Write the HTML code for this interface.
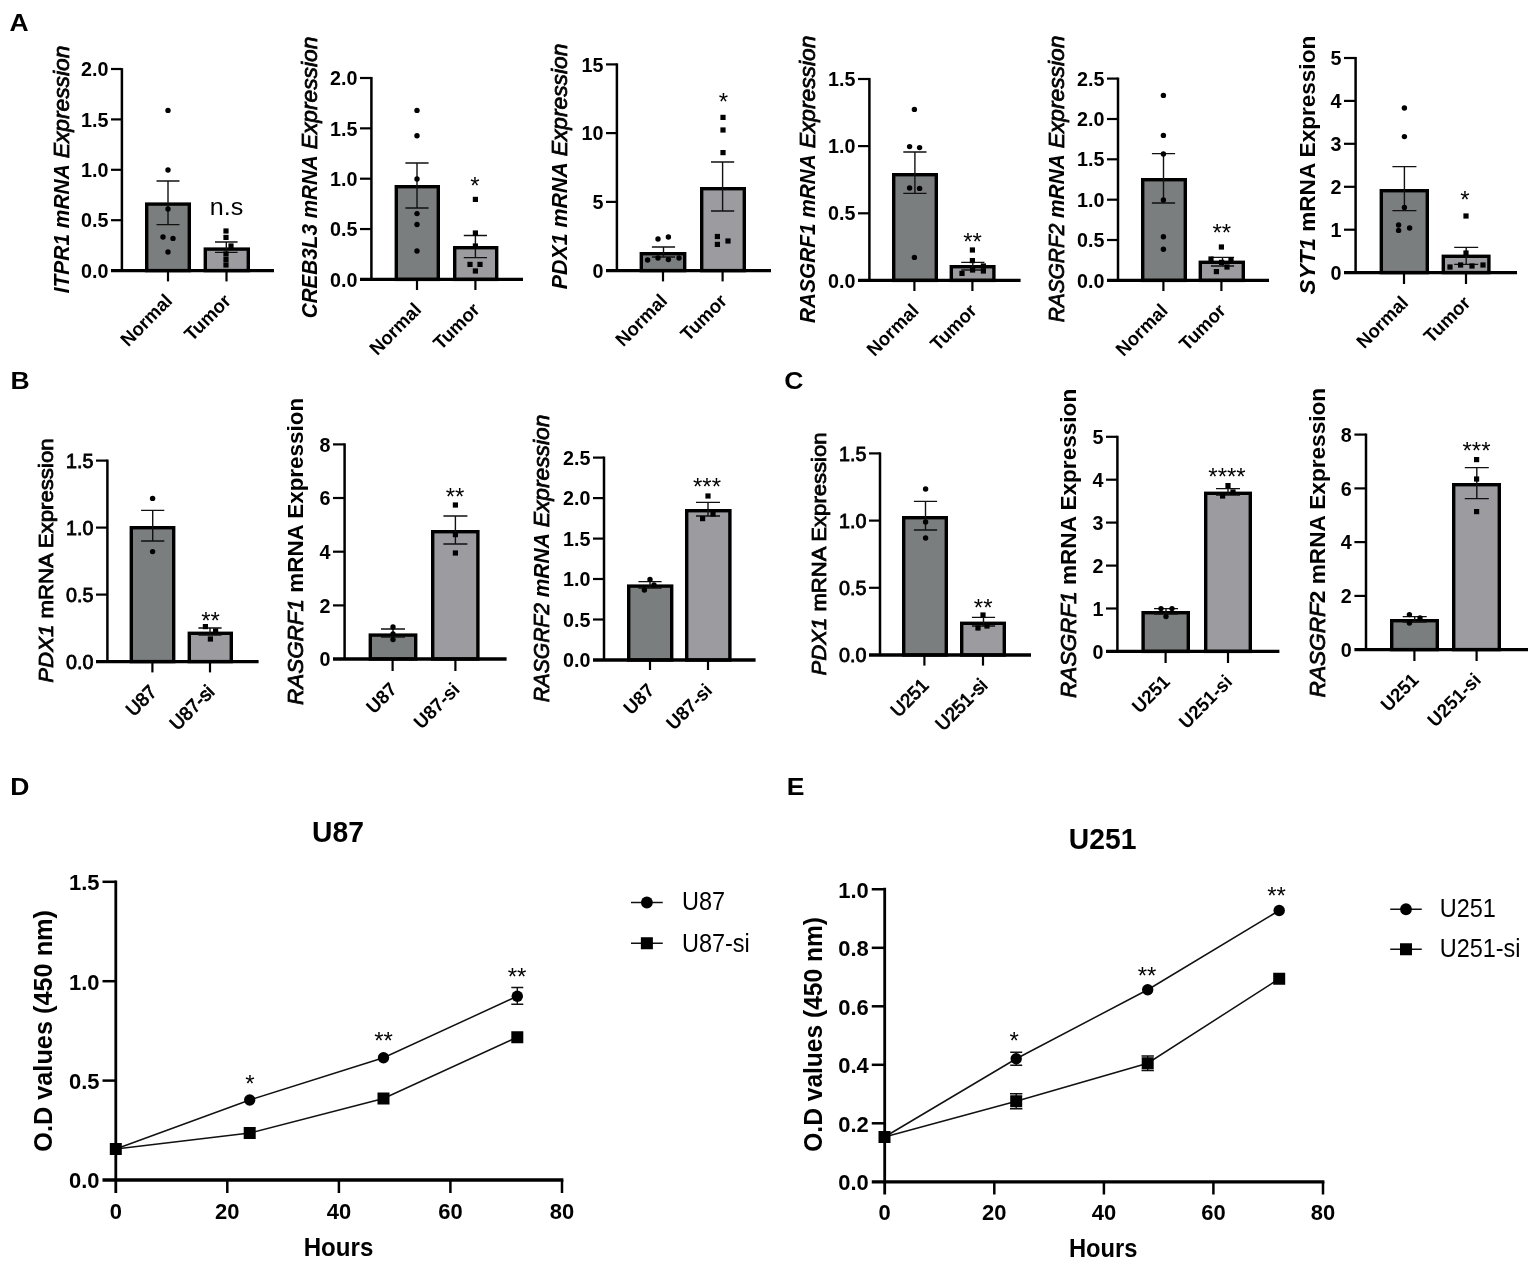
<!DOCTYPE html>
<html><head><meta charset="utf-8"><title>Figure</title>
<style>
html,body{margin:0;padding:0;background:#fff}
svg{display:block;filter:blur(.35px)}
text{font-family:"Liberation Sans",Arial,Helvetica,sans-serif;fill:#000}
.b{font-weight:700}
.bi{font-weight:700;font-style:italic}
.i{font-style:italic}
.i2{font-style:italic;stroke:#000;stroke-width:.8px}
.r{font-weight:400}
.m{font-weight:400;stroke:#000;stroke-width:.8px}
.mi{font-weight:400;font-style:italic;stroke:#000;stroke-width:.8px}
</style></head><body>
<svg width="1535" height="1263" viewBox="0 0 1535 1263">
<rect width="1535" height="1263" fill="#fff"/>
<rect x="146.70" y="204.10" width="42.60" height="66.50" fill="#7b7e7e" stroke="#000" stroke-width="3.4"/>
<rect x="205.30" y="249.10" width="43.00" height="21.50" fill="#9b9ba0" stroke="#000" stroke-width="3.4"/>
<path d="M156.50 181.00H179.50M168.00 181.00V224.60M156.50 224.60H179.50" stroke="#111" stroke-width="1.4" fill="none"/>
<path d="M215.00 242.00H237.60M226.30 242.00V252.40M215.00 252.40H237.60" stroke="#111" stroke-width="1.4" fill="none"/>
<path d="M121.90 68.15V270.60" stroke="#000" stroke-width="2.5" fill="none"/>
<path d="M111.00 270.60H274.00" stroke="#000" stroke-width="3.4" fill="none"/>
<path d="M111.00 69.00H121.90" stroke="#000" stroke-width="2.2"/>
<text class="b" font-size="19.7" x="81.01" y="76.15" textLength="27.39" lengthAdjust="spacingAndGlyphs">2.0</text>
<path d="M111.00 119.40H121.90" stroke="#000" stroke-width="2.2"/>
<text class="b" font-size="19.7" x="81.01" y="126.55" textLength="27.39" lengthAdjust="spacingAndGlyphs">1.5</text>
<path d="M111.00 169.80H121.90" stroke="#000" stroke-width="2.2"/>
<text class="b" font-size="19.7" x="81.01" y="176.95" textLength="27.39" lengthAdjust="spacingAndGlyphs">1.0</text>
<path d="M111.00 220.20H121.90" stroke="#000" stroke-width="2.2"/>
<text class="b" font-size="19.7" x="81.01" y="227.35" textLength="27.39" lengthAdjust="spacingAndGlyphs">0.5</text>
<text class="b" font-size="19.7" x="81.01" y="277.75" textLength="27.39" lengthAdjust="spacingAndGlyphs">0.0</text>
<path d="M168.00 270.60V281.40" stroke="#000" stroke-width="2.2"/>
<path d="M226.50 270.60V281.40" stroke="#000" stroke-width="2.2"/>
<text class="b" font-size="19.0" x="-64.15" y="0" textLength="64.15" lengthAdjust="spacingAndGlyphs" transform="translate(173.50 302.10) rotate(-45)">Normal</text>
<text class="b" font-size="19.0" x="-56.54" y="0" textLength="56.54" lengthAdjust="spacingAndGlyphs" transform="translate(232.00 302.10) rotate(-45)">Tumor</text>
<circle cx="168.00" cy="110.40" r="2.7" fill="#000"/>
<circle cx="168.00" cy="170.00" r="2.7" fill="#000"/>
<circle cx="168.00" cy="209.00" r="2.7" fill="#000"/>
<circle cx="163.00" cy="237.00" r="2.7" fill="#000"/>
<circle cx="173.00" cy="238.40" r="2.7" fill="#000"/>
<circle cx="168.00" cy="252.00" r="2.7" fill="#000"/>
<rect x="223.40" y="228.40" width="5.2" height="5.2" fill="#000"/>
<rect x="223.40" y="234.80" width="5.2" height="5.2" fill="#000"/>
<rect x="228.40" y="243.40" width="5.2" height="5.2" fill="#000"/>
<rect x="223.40" y="251.40" width="5.2" height="5.2" fill="#000"/>
<rect x="223.40" y="257.00" width="5.2" height="5.2" fill="#000"/>
<rect x="223.40" y="262.40" width="5.2" height="5.2" fill="#000"/>
<text class="r" font-size="24.6" x="209.76" y="215.00" textLength="33.47" lengthAdjust="spacingAndGlyphs">n.s</text>
<text font-size="22.3" textLength="129.10" lengthAdjust="spacingAndGlyphs" xml:space="preserve" transform="translate(68.80 293.30) rotate(-90)"><tspan class="bi">ITPR1 mRNA</tspan></text>
<text class="i2" font-size="22.3" textLength="112.7" lengthAdjust="spacingAndGlyphs" transform="translate(68.80 158.30) rotate(-90)">Expression</text>
<rect x="396.30" y="186.70" width="42.00" height="92.70" fill="#7b7e7e" stroke="#000" stroke-width="3.4"/>
<rect x="454.70" y="247.70" width="42.00" height="31.70" fill="#9b9ba0" stroke="#000" stroke-width="3.4"/>
<path d="M405.40 163.00H428.60M417.00 163.00V208.00M405.40 208.00H428.60" stroke="#111" stroke-width="1.4" fill="none"/>
<path d="M463.80 235.50H487.00M475.40 235.50V257.60M463.80 257.60H487.00" stroke="#111" stroke-width="1.4" fill="none"/>
<path d="M371.40 76.95V279.40" stroke="#000" stroke-width="2.5" fill="none"/>
<path d="M360.00 279.40H523.00" stroke="#000" stroke-width="3.4" fill="none"/>
<path d="M360.00 78.00H371.40" stroke="#000" stroke-width="2.2"/>
<text class="b" font-size="19.7" x="330.01" y="85.15" textLength="27.39" lengthAdjust="spacingAndGlyphs">2.0</text>
<path d="M360.00 128.35H371.40" stroke="#000" stroke-width="2.2"/>
<text class="b" font-size="19.7" x="330.01" y="135.50" textLength="27.39" lengthAdjust="spacingAndGlyphs">1.5</text>
<path d="M360.00 178.70H371.40" stroke="#000" stroke-width="2.2"/>
<text class="b" font-size="19.7" x="330.01" y="185.85" textLength="27.39" lengthAdjust="spacingAndGlyphs">1.0</text>
<path d="M360.00 229.05H371.40" stroke="#000" stroke-width="2.2"/>
<text class="b" font-size="19.7" x="330.01" y="236.20" textLength="27.39" lengthAdjust="spacingAndGlyphs">0.5</text>
<text class="b" font-size="19.7" x="330.01" y="286.55" textLength="27.39" lengthAdjust="spacingAndGlyphs">0.0</text>
<path d="M417.00 279.40V290.00" stroke="#000" stroke-width="2.2"/>
<path d="M475.40 279.40V290.00" stroke="#000" stroke-width="2.2"/>
<text class="b" font-size="19.0" x="-64.15" y="0" textLength="64.15" lengthAdjust="spacingAndGlyphs" transform="translate(422.50 310.90) rotate(-45)">Normal</text>
<text class="b" font-size="19.0" x="-56.54" y="0" textLength="56.54" lengthAdjust="spacingAndGlyphs" transform="translate(480.90 310.90) rotate(-45)">Tumor</text>
<circle cx="417.00" cy="110.40" r="2.7" fill="#000"/>
<circle cx="417.00" cy="135.80" r="2.7" fill="#000"/>
<circle cx="417.00" cy="179.00" r="2.7" fill="#000"/>
<circle cx="417.00" cy="213.60" r="2.7" fill="#000"/>
<circle cx="417.00" cy="224.50" r="2.7" fill="#000"/>
<circle cx="417.00" cy="251.00" r="2.7" fill="#000"/>
<rect x="472.80" y="196.80" width="5.2" height="5.2" fill="#000"/>
<rect x="472.80" y="230.40" width="5.2" height="5.2" fill="#000"/>
<rect x="472.80" y="243.40" width="5.2" height="5.2" fill="#000"/>
<rect x="467.40" y="261.80" width="5.2" height="5.2" fill="#000"/>
<rect x="477.40" y="261.80" width="5.2" height="5.2" fill="#000"/>
<rect x="472.80" y="268.40" width="5.2" height="5.2" fill="#000"/>
<text class="r" font-size="24" text-anchor="middle" x="475.00" y="194.24">*</text>
<text font-size="22.3" textLength="163.10" lengthAdjust="spacingAndGlyphs" xml:space="preserve" transform="translate(317.20 318.30) rotate(-90)"><tspan class="bi">CREB3L3 mRNA</tspan></text>
<text class="i2" font-size="22.3" textLength="112.7" lengthAdjust="spacingAndGlyphs" transform="translate(317.20 149.30) rotate(-90)">Expression</text>
<rect x="641.30" y="253.70" width="43.40" height="16.90" fill="#7b7e7e" stroke="#000" stroke-width="3.4"/>
<rect x="701.70" y="188.70" width="42.60" height="81.90" fill="#9b9ba0" stroke="#000" stroke-width="3.4"/>
<path d="M651.90 247.00H675.10M663.50 247.00V257.00M651.90 257.00H675.10" stroke="#111" stroke-width="1.4" fill="none"/>
<path d="M711.00 162.00H734.20M722.60 162.00V211.00M711.00 211.00H734.20" stroke="#111" stroke-width="1.4" fill="none"/>
<path d="M616.90 63.35V270.60" stroke="#000" stroke-width="2.5" fill="none"/>
<path d="M606.00 270.60H771.00" stroke="#000" stroke-width="3.4" fill="none"/>
<path d="M606.00 64.40H616.90" stroke="#000" stroke-width="2.2"/>
<text class="b" font-size="19.7" x="581.49" y="71.55" textLength="21.91" lengthAdjust="spacingAndGlyphs">15</text>
<path d="M606.00 133.10H616.90" stroke="#000" stroke-width="2.2"/>
<text class="b" font-size="19.7" x="581.49" y="140.25" textLength="21.91" lengthAdjust="spacingAndGlyphs">10</text>
<path d="M606.00 201.90H616.90" stroke="#000" stroke-width="2.2"/>
<text class="b" font-size="19.7" x="592.44" y="209.05" textLength="10.96" lengthAdjust="spacingAndGlyphs">5</text>
<text class="b" font-size="19.7" x="592.44" y="277.75" textLength="10.96" lengthAdjust="spacingAndGlyphs">0</text>
<path d="M663.00 270.60V281.40" stroke="#000" stroke-width="2.2"/>
<path d="M722.60 270.60V281.40" stroke="#000" stroke-width="2.2"/>
<text class="b" font-size="19.0" x="-64.15" y="0" textLength="64.15" lengthAdjust="spacingAndGlyphs" transform="translate(668.50 302.10) rotate(-45)">Normal</text>
<text class="b" font-size="19.0" x="-56.54" y="0" textLength="56.54" lengthAdjust="spacingAndGlyphs" transform="translate(728.10 302.10) rotate(-45)">Tumor</text>
<circle cx="658.00" cy="239.00" r="2.7" fill="#000"/>
<circle cx="668.40" cy="237.00" r="2.7" fill="#000"/>
<circle cx="647.60" cy="260.00" r="2.7" fill="#000"/>
<circle cx="658.00" cy="258.00" r="2.7" fill="#000"/>
<circle cx="668.40" cy="259.60" r="2.7" fill="#000"/>
<circle cx="679.00" cy="258.00" r="2.7" fill="#000"/>
<rect x="720.40" y="114.80" width="5.2" height="5.2" fill="#000"/>
<rect x="720.40" y="127.40" width="5.2" height="5.2" fill="#000"/>
<rect x="720.40" y="150.00" width="5.2" height="5.2" fill="#000"/>
<rect x="714.80" y="233.90" width="5.2" height="5.2" fill="#000"/>
<rect x="714.80" y="241.80" width="5.2" height="5.2" fill="#000"/>
<rect x="725.40" y="238.40" width="5.2" height="5.2" fill="#000"/>
<text class="r" font-size="24" text-anchor="middle" x="723.40" y="109.64">*</text>
<text font-size="22.3" textLength="127.10" lengthAdjust="spacingAndGlyphs" xml:space="preserve" transform="translate(567.40 289.30) rotate(-90)"><tspan class="bi">PDX1 mRNA</tspan></text>
<text class="i2" font-size="22.3" textLength="112.7" lengthAdjust="spacingAndGlyphs" transform="translate(567.40 156.30) rotate(-90)">Expression</text>
<rect x="893.70" y="174.70" width="42.60" height="105.70" fill="#7b7e7e" stroke="#000" stroke-width="3.4"/>
<rect x="951.30" y="266.70" width="42.60" height="13.70" fill="#9b9ba0" stroke="#000" stroke-width="3.4"/>
<path d="M903.30 152.00H926.50M914.90 152.00V193.40M903.30 193.40H926.50" stroke="#111" stroke-width="1.4" fill="none"/>
<path d="M961.20 262.40H984.40M972.80 262.40V270.00M961.20 270.00H984.40" stroke="#111" stroke-width="1.4" fill="none"/>
<path d="M869.40 77.95V280.40" stroke="#000" stroke-width="2.5" fill="none"/>
<path d="M858.00 280.40H1020.60" stroke="#000" stroke-width="3.4" fill="none"/>
<path d="M858.00 79.00H869.40" stroke="#000" stroke-width="2.2"/>
<text class="b" font-size="19.7" x="828.01" y="86.15" textLength="27.39" lengthAdjust="spacingAndGlyphs">1.5</text>
<path d="M858.00 146.10H869.40" stroke="#000" stroke-width="2.2"/>
<text class="b" font-size="19.7" x="828.01" y="153.25" textLength="27.39" lengthAdjust="spacingAndGlyphs">1.0</text>
<path d="M858.00 213.30H869.40" stroke="#000" stroke-width="2.2"/>
<text class="b" font-size="19.7" x="828.01" y="220.45" textLength="27.39" lengthAdjust="spacingAndGlyphs">0.5</text>
<text class="b" font-size="19.7" x="828.01" y="287.55" textLength="27.39" lengthAdjust="spacingAndGlyphs">0.0</text>
<path d="M914.40 280.40V291.00" stroke="#000" stroke-width="2.2"/>
<path d="M972.40 280.40V291.00" stroke="#000" stroke-width="2.2"/>
<text class="b" font-size="19.0" x="-64.15" y="0" textLength="64.15" lengthAdjust="spacingAndGlyphs" transform="translate(919.90 311.90) rotate(-45)">Normal</text>
<text class="b" font-size="19.0" x="-56.54" y="0" textLength="56.54" lengthAdjust="spacingAndGlyphs" transform="translate(977.90 311.90) rotate(-45)">Tumor</text>
<circle cx="914.40" cy="109.40" r="2.7" fill="#000"/>
<circle cx="909.60" cy="146.60" r="2.7" fill="#000"/>
<circle cx="919.60" cy="147.60" r="2.7" fill="#000"/>
<circle cx="909.60" cy="188.00" r="2.7" fill="#000"/>
<circle cx="919.60" cy="188.40" r="2.7" fill="#000"/>
<circle cx="914.40" cy="257.40" r="2.7" fill="#000"/>
<rect x="969.80" y="247.40" width="5.2" height="5.2" fill="#000"/>
<rect x="969.80" y="258.00" width="5.2" height="5.2" fill="#000"/>
<rect x="959.40" y="270.80" width="5.2" height="5.2" fill="#000"/>
<rect x="970.00" y="267.40" width="5.2" height="5.2" fill="#000"/>
<rect x="980.80" y="268.40" width="5.2" height="5.2" fill="#000"/>
<rect x="980.80" y="263.40" width="5.2" height="5.2" fill="#000"/>
<text class="r" font-size="24" text-anchor="middle" x="972.50" y="250.24">**</text>
<text font-size="22.3" textLength="168.70" lengthAdjust="spacingAndGlyphs" xml:space="preserve" transform="translate(815.20 322.90) rotate(-90)"><tspan class="bi">RASGRF1 mRNA</tspan></text>
<text class="i2" font-size="22.3" textLength="112.7" lengthAdjust="spacingAndGlyphs" transform="translate(815.20 148.30) rotate(-90)">Expression</text>
<rect x="1142.70" y="179.70" width="42.60" height="100.70" fill="#7b7e7e" stroke="#000" stroke-width="3.4"/>
<rect x="1200.30" y="262.30" width="43.00" height="18.10" fill="#9b9ba0" stroke="#000" stroke-width="3.4"/>
<path d="M1151.90 153.60H1175.10M1163.50 153.60V203.00M1151.90 203.00H1175.10" stroke="#111" stroke-width="1.4" fill="none"/>
<path d="M1210.90 257.40H1234.10M1222.50 257.40V266.00M1210.90 266.00H1234.10" stroke="#111" stroke-width="1.4" fill="none"/>
<path d="M1118.00 77.55V280.40" stroke="#000" stroke-width="2.5" fill="none"/>
<path d="M1107.00 280.40H1269.00" stroke="#000" stroke-width="3.4" fill="none"/>
<path d="M1107.00 78.60H1118.00" stroke="#000" stroke-width="2.2"/>
<text class="b" font-size="19.7" x="1077.01" y="85.75" textLength="27.39" lengthAdjust="spacingAndGlyphs">2.5</text>
<path d="M1107.00 119.00H1118.00" stroke="#000" stroke-width="2.2"/>
<text class="b" font-size="19.7" x="1077.01" y="126.15" textLength="27.39" lengthAdjust="spacingAndGlyphs">2.0</text>
<path d="M1107.00 159.30H1118.00" stroke="#000" stroke-width="2.2"/>
<text class="b" font-size="19.7" x="1077.01" y="166.45" textLength="27.39" lengthAdjust="spacingAndGlyphs">1.5</text>
<path d="M1107.00 199.70H1118.00" stroke="#000" stroke-width="2.2"/>
<text class="b" font-size="19.7" x="1077.01" y="206.85" textLength="27.39" lengthAdjust="spacingAndGlyphs">1.0</text>
<path d="M1107.00 240.00H1118.00" stroke="#000" stroke-width="2.2"/>
<text class="b" font-size="19.7" x="1077.01" y="247.15" textLength="27.39" lengthAdjust="spacingAndGlyphs">0.5</text>
<text class="b" font-size="19.7" x="1077.01" y="287.55" textLength="27.39" lengthAdjust="spacingAndGlyphs">0.0</text>
<path d="M1163.40 280.40V291.00" stroke="#000" stroke-width="2.2"/>
<path d="M1221.40 280.40V291.00" stroke="#000" stroke-width="2.2"/>
<text class="b" font-size="19.0" x="-64.15" y="0" textLength="64.15" lengthAdjust="spacingAndGlyphs" transform="translate(1168.90 311.90) rotate(-45)">Normal</text>
<text class="b" font-size="19.0" x="-56.54" y="0" textLength="56.54" lengthAdjust="spacingAndGlyphs" transform="translate(1226.90 311.90) rotate(-45)">Tumor</text>
<circle cx="1163.40" cy="95.40" r="2.7" fill="#000"/>
<circle cx="1163.40" cy="135.40" r="2.7" fill="#000"/>
<circle cx="1163.40" cy="154.00" r="2.7" fill="#000"/>
<circle cx="1163.40" cy="200.00" r="2.7" fill="#000"/>
<circle cx="1163.40" cy="236.80" r="2.7" fill="#000"/>
<circle cx="1163.40" cy="249.20" r="2.7" fill="#000"/>
<rect x="1218.80" y="244.40" width="5.2" height="5.2" fill="#000"/>
<rect x="1208.40" y="256.40" width="5.2" height="5.2" fill="#000"/>
<rect x="1228.40" y="257.00" width="5.2" height="5.2" fill="#000"/>
<rect x="1224.40" y="264.40" width="5.2" height="5.2" fill="#000"/>
<rect x="1213.80" y="269.00" width="5.2" height="5.2" fill="#000"/>
<rect x="1219.00" y="259.80" width="5.2" height="5.2" fill="#000"/>
<text class="r" font-size="24" text-anchor="middle" x="1221.80" y="240.74">**</text>
<text font-size="22.3" textLength="168.10" lengthAdjust="spacingAndGlyphs" xml:space="preserve" transform="translate(1064.20 322.30) rotate(-90)"><tspan class="i2">RASGRF2</tspan><tspan class="bi"> mRNA</tspan></text>
<text class="i2" font-size="22.3" textLength="112.7" lengthAdjust="spacingAndGlyphs" transform="translate(1064.20 148.30) rotate(-90)">Expression</text>
<rect x="1381.30" y="190.70" width="46.00" height="81.90" fill="#7b7e7e" stroke="#000" stroke-width="3.4"/>
<rect x="1443.30" y="256.30" width="45.60" height="16.30" fill="#9b9ba0" stroke="#000" stroke-width="3.4"/>
<path d="M1392.40 166.60H1416.40M1404.40 166.60V210.60M1392.40 210.60H1416.40" stroke="#111" stroke-width="1.4" fill="none"/>
<path d="M1454.20 247.40H1478.20M1466.20 247.40V264.40M1454.20 264.40H1478.20" stroke="#111" stroke-width="1.4" fill="none"/>
<path d="M1355.60 56.95V272.60" stroke="#000" stroke-width="2.5" fill="none"/>
<path d="M1344.00 272.60H1517.00" stroke="#000" stroke-width="3.4" fill="none"/>
<path d="M1344.00 58.00H1355.60" stroke="#000" stroke-width="2.2"/>
<text class="b" font-size="19.7" x="1330.44" y="65.15" textLength="10.96" lengthAdjust="spacingAndGlyphs">5</text>
<path d="M1344.00 100.90H1355.60" stroke="#000" stroke-width="2.2"/>
<text class="b" font-size="19.7" x="1330.44" y="108.05" textLength="10.96" lengthAdjust="spacingAndGlyphs">4</text>
<path d="M1344.00 143.80H1355.60" stroke="#000" stroke-width="2.2"/>
<text class="b" font-size="19.7" x="1330.44" y="150.95" textLength="10.96" lengthAdjust="spacingAndGlyphs">3</text>
<path d="M1344.00 186.80H1355.60" stroke="#000" stroke-width="2.2"/>
<text class="b" font-size="19.7" x="1330.44" y="193.95" textLength="10.96" lengthAdjust="spacingAndGlyphs">2</text>
<path d="M1344.00 229.70H1355.60" stroke="#000" stroke-width="2.2"/>
<text class="b" font-size="19.7" x="1330.44" y="236.85" textLength="10.96" lengthAdjust="spacingAndGlyphs">1</text>
<text class="b" font-size="19.7" x="1330.44" y="279.75" textLength="10.96" lengthAdjust="spacingAndGlyphs">0</text>
<path d="M1404.00 272.60V284.00" stroke="#000" stroke-width="2.2"/>
<path d="M1466.00 272.60V284.00" stroke="#000" stroke-width="2.2"/>
<text class="b" font-size="19.0" x="-64.15" y="0" textLength="64.15" lengthAdjust="spacingAndGlyphs" transform="translate(1409.50 304.10) rotate(-45)">Normal</text>
<text class="b" font-size="19.0" x="-56.54" y="0" textLength="56.54" lengthAdjust="spacingAndGlyphs" transform="translate(1471.50 304.10) rotate(-45)">Tumor</text>
<circle cx="1404.40" cy="108.00" r="2.7" fill="#000"/>
<circle cx="1404.40" cy="136.60" r="2.7" fill="#000"/>
<circle cx="1404.40" cy="207.40" r="2.7" fill="#000"/>
<circle cx="1398.60" cy="225.00" r="2.7" fill="#000"/>
<circle cx="1398.60" cy="230.40" r="2.7" fill="#000"/>
<circle cx="1409.60" cy="228.00" r="2.7" fill="#000"/>
<rect x="1463.40" y="213.40" width="5.2" height="5.2" fill="#000"/>
<rect x="1463.40" y="250.40" width="5.2" height="5.2" fill="#000"/>
<rect x="1447.40" y="264.40" width="5.2" height="5.2" fill="#000"/>
<rect x="1458.00" y="262.40" width="5.2" height="5.2" fill="#000"/>
<rect x="1469.40" y="263.40" width="5.2" height="5.2" fill="#000"/>
<rect x="1480.40" y="262.40" width="5.2" height="5.2" fill="#000"/>
<text class="r" font-size="24" text-anchor="middle" x="1465.00" y="208.24">*</text>
<text font-size="22" textLength="258.60" lengthAdjust="spacingAndGlyphs" xml:space="preserve" transform="translate(1315.40 294.40) rotate(-90)"><tspan class="bi">SYT1</tspan><tspan class="b"> mRNA Expression</tspan></text>
<rect x="131.30" y="527.70" width="42.40" height="133.90" fill="#7b7e7e" stroke="#000" stroke-width="3.4"/>
<rect x="189.30" y="633.30" width="42.00" height="28.30" fill="#9b9ba0" stroke="#000" stroke-width="3.4"/>
<path d="M141.10 510.40H164.30M152.70 510.40V541.00M141.10 541.00H164.30" stroke="#111" stroke-width="1.4" fill="none"/>
<path d="M198.40 628.00H221.60M210.00 628.00V635.00M198.40 635.00H221.60" stroke="#111" stroke-width="1.4" fill="none"/>
<path d="M107.40 459.55V661.60" stroke="#000" stroke-width="2.5" fill="none"/>
<path d="M96.00 661.60H258.60" stroke="#000" stroke-width="3.4" fill="none"/>
<path d="M96.00 460.60H107.40" stroke="#000" stroke-width="2.2"/>
<text class="m" font-size="19.7" x="66.01" y="467.75" textLength="27.39" lengthAdjust="spacingAndGlyphs">1.5</text>
<path d="M96.00 527.60H107.40" stroke="#000" stroke-width="2.2"/>
<text class="m" font-size="19.7" x="66.01" y="534.75" textLength="27.39" lengthAdjust="spacingAndGlyphs">1.0</text>
<path d="M96.00 594.60H107.40" stroke="#000" stroke-width="2.2"/>
<text class="m" font-size="19.7" x="66.01" y="601.75" textLength="27.39" lengthAdjust="spacingAndGlyphs">0.5</text>
<text class="m" font-size="19.7" x="66.01" y="668.75" textLength="27.39" lengthAdjust="spacingAndGlyphs">0.0</text>
<path d="M152.40 661.60V672.40" stroke="#000" stroke-width="2.2"/>
<path d="M210.00 661.60V672.40" stroke="#000" stroke-width="2.2"/>
<text class="m" font-size="19.0" x="-34.16" y="0" textLength="34.16" lengthAdjust="spacingAndGlyphs" transform="translate(157.90 693.10) rotate(-45)">U87</text>
<text class="m" font-size="19.0" x="-53.81" y="0" textLength="53.81" lengthAdjust="spacingAndGlyphs" transform="translate(215.50 693.10) rotate(-45)">U87-si</text>
<circle cx="152.60" cy="498.40" r="2.7" fill="#000"/>
<circle cx="152.60" cy="551.60" r="2.7" fill="#000"/>
<rect x="202.80" y="624.00" width="5.2" height="5.2" fill="#000"/>
<rect x="213.00" y="628.40" width="5.2" height="5.2" fill="#000"/>
<rect x="207.80" y="636.40" width="5.2" height="5.2" fill="#000"/>
<text class="r" font-size="24" text-anchor="middle" x="210.50" y="628.84">**</text>
<text font-size="21" textLength="244.30" lengthAdjust="spacingAndGlyphs" xml:space="preserve" transform="translate(52.60 682.70) rotate(-90)"><tspan class="mi">PDX1</tspan><tspan class="m"> mRNA Expression</tspan></text>
<rect x="370.30" y="635.10" width="45.40" height="23.90" fill="#7b7e7e" stroke="#000" stroke-width="3.4"/>
<rect x="432.70" y="531.70" width="45.20" height="127.30" fill="#9b9ba0" stroke="#000" stroke-width="3.4"/>
<path d="M381.00 629.00H405.00M393.00 629.00V637.00M381.00 637.00H405.00" stroke="#111" stroke-width="1.4" fill="none"/>
<path d="M443.40 516.00H467.40M455.40 516.00V544.00M443.40 544.00H467.40" stroke="#111" stroke-width="1.4" fill="none"/>
<path d="M344.60 443.35V659.00" stroke="#000" stroke-width="2.5" fill="none"/>
<path d="M333.00 659.00H506.60" stroke="#000" stroke-width="3.4" fill="none"/>
<path d="M333.00 444.40H344.60" stroke="#000" stroke-width="2.2"/>
<text class="b" font-size="19.7" x="319.44" y="451.55" textLength="10.96" lengthAdjust="spacingAndGlyphs">8</text>
<path d="M333.00 498.00H344.60" stroke="#000" stroke-width="2.2"/>
<text class="b" font-size="19.7" x="319.44" y="505.15" textLength="10.96" lengthAdjust="spacingAndGlyphs">6</text>
<path d="M333.00 551.70H344.60" stroke="#000" stroke-width="2.2"/>
<text class="b" font-size="19.7" x="319.44" y="558.85" textLength="10.96" lengthAdjust="spacingAndGlyphs">4</text>
<path d="M333.00 605.40H344.60" stroke="#000" stroke-width="2.2"/>
<text class="b" font-size="19.7" x="319.44" y="612.55" textLength="10.96" lengthAdjust="spacingAndGlyphs">2</text>
<text class="b" font-size="19.7" x="319.44" y="666.15" textLength="10.96" lengthAdjust="spacingAndGlyphs">0</text>
<path d="M392.60 659.00V671.00" stroke="#000" stroke-width="2.2"/>
<path d="M455.40 659.00V671.00" stroke="#000" stroke-width="2.2"/>
<text class="b" font-size="19.0" x="-34.16" y="0" textLength="34.16" lengthAdjust="spacingAndGlyphs" transform="translate(398.10 690.50) rotate(-45)">U87</text>
<text class="b" font-size="19.0" x="-55.89" y="0" textLength="55.89" lengthAdjust="spacingAndGlyphs" transform="translate(460.90 690.50) rotate(-45)">U87-si</text>
<circle cx="393.00" cy="627.00" r="2.7" fill="#000"/>
<circle cx="393.00" cy="634.00" r="2.7" fill="#000"/>
<circle cx="393.00" cy="639.60" r="2.7" fill="#000"/>
<rect x="452.80" y="502.40" width="5.2" height="5.2" fill="#000"/>
<rect x="452.80" y="532.00" width="5.2" height="5.2" fill="#000"/>
<rect x="452.80" y="550.40" width="5.2" height="5.2" fill="#000"/>
<text class="r" font-size="24" text-anchor="middle" x="455.00" y="505.24">**</text>
<text font-size="22" textLength="307.20" lengthAdjust="spacingAndGlyphs" xml:space="preserve" transform="translate(303.00 705.00) rotate(-90)"><tspan class="mi">RASGRF1</tspan><tspan class="b"> mRNA Expression</tspan></text>
<rect x="628.70" y="586.10" width="43.00" height="73.90" fill="#7b7e7e" stroke="#000" stroke-width="3.4"/>
<rect x="686.70" y="510.70" width="43.20" height="149.30" fill="#9b9ba0" stroke="#000" stroke-width="3.4"/>
<path d="M638.40 581.60H661.60M650.00 581.60V588.00M638.40 588.00H661.60" stroke="#111" stroke-width="1.4" fill="none"/>
<path d="M696.00 502.40H720.00M708.00 502.40V516.00M696.00 516.00H720.00" stroke="#111" stroke-width="1.4" fill="none"/>
<path d="M604.00 456.55V660.00" stroke="#000" stroke-width="2.5" fill="none"/>
<path d="M593.00 660.00H755.60" stroke="#000" stroke-width="3.4" fill="none"/>
<path d="M593.00 457.60H604.00" stroke="#000" stroke-width="2.2"/>
<text class="b" font-size="19.7" x="563.01" y="464.75" textLength="27.39" lengthAdjust="spacingAndGlyphs">2.5</text>
<path d="M593.00 498.10H604.00" stroke="#000" stroke-width="2.2"/>
<text class="b" font-size="19.7" x="563.01" y="505.25" textLength="27.39" lengthAdjust="spacingAndGlyphs">2.0</text>
<path d="M593.00 538.60H604.00" stroke="#000" stroke-width="2.2"/>
<text class="b" font-size="19.7" x="563.01" y="545.75" textLength="27.39" lengthAdjust="spacingAndGlyphs">1.5</text>
<path d="M593.00 579.00H604.00" stroke="#000" stroke-width="2.2"/>
<text class="b" font-size="19.7" x="563.01" y="586.15" textLength="27.39" lengthAdjust="spacingAndGlyphs">1.0</text>
<path d="M593.00 619.50H604.00" stroke="#000" stroke-width="2.2"/>
<text class="b" font-size="19.7" x="563.01" y="626.65" textLength="27.39" lengthAdjust="spacingAndGlyphs">0.5</text>
<text class="b" font-size="19.7" x="563.01" y="667.15" textLength="27.39" lengthAdjust="spacingAndGlyphs">0.0</text>
<path d="M650.00 660.00V670.00" stroke="#000" stroke-width="2.2"/>
<path d="M708.00 660.00V670.00" stroke="#000" stroke-width="2.2"/>
<text class="b" font-size="19.0" x="-34.16" y="0" textLength="34.16" lengthAdjust="spacingAndGlyphs" transform="translate(655.50 691.50) rotate(-45)">U87</text>
<text class="b" font-size="19.0" x="-55.89" y="0" textLength="55.89" lengthAdjust="spacingAndGlyphs" transform="translate(713.50 691.50) rotate(-45)">U87-si</text>
<circle cx="650.00" cy="579.40" r="2.7" fill="#000"/>
<circle cx="644.40" cy="590.00" r="2.7" fill="#000"/>
<circle cx="654.00" cy="585.00" r="2.7" fill="#000"/>
<rect x="705.40" y="493.40" width="5.2" height="5.2" fill="#000"/>
<rect x="700.00" y="516.00" width="5.2" height="5.2" fill="#000"/>
<rect x="710.40" y="511.40" width="5.2" height="5.2" fill="#000"/>
<text class="r" font-size="24" text-anchor="middle" x="707.00" y="495.24">***</text>
<text font-size="22.3" textLength="169.10" lengthAdjust="spacingAndGlyphs" xml:space="preserve" transform="translate(549.20 702.30) rotate(-90)"><tspan class="i2">RASGRF2</tspan><tspan class="bi"> mRNA</tspan></text>
<text class="i2" font-size="22.3" textLength="112.7" lengthAdjust="spacingAndGlyphs" transform="translate(549.20 527.30) rotate(-90)">Expression</text>
<rect x="903.70" y="517.70" width="42.60" height="137.30" fill="#7b7e7e" stroke="#000" stroke-width="3.4"/>
<rect x="961.70" y="623.30" width="42.60" height="31.70" fill="#9b9ba0" stroke="#000" stroke-width="3.4"/>
<path d="M913.90 501.40H937.10M925.50 501.40V530.00M913.90 530.00H937.10" stroke="#111" stroke-width="1.4" fill="none"/>
<path d="M971.90 617.40H995.10M983.50 617.40V626.00M971.90 626.00H995.10" stroke="#111" stroke-width="1.4" fill="none"/>
<path d="M880.00 452.35V655.00" stroke="#000" stroke-width="2.5" fill="none"/>
<path d="M869.00 655.00H1031.00" stroke="#000" stroke-width="3.4" fill="none"/>
<path d="M869.00 453.40H880.00" stroke="#000" stroke-width="2.2"/>
<text class="m" font-size="19.7" x="839.01" y="460.55" textLength="27.39" lengthAdjust="spacingAndGlyphs">1.5</text>
<path d="M869.00 520.60H880.00" stroke="#000" stroke-width="2.2"/>
<text class="m" font-size="19.7" x="839.01" y="527.75" textLength="27.39" lengthAdjust="spacingAndGlyphs">1.0</text>
<path d="M869.00 587.80H880.00" stroke="#000" stroke-width="2.2"/>
<text class="m" font-size="19.7" x="839.01" y="594.95" textLength="27.39" lengthAdjust="spacingAndGlyphs">0.5</text>
<text class="m" font-size="19.7" x="839.01" y="662.15" textLength="27.39" lengthAdjust="spacingAndGlyphs">0.0</text>
<path d="M924.40 655.00V665.60" stroke="#000" stroke-width="2.2"/>
<path d="M983.00 655.00V665.60" stroke="#000" stroke-width="2.2"/>
<text class="m" font-size="19.0" x="-44.51" y="0" textLength="44.51" lengthAdjust="spacingAndGlyphs" transform="translate(929.90 686.50) rotate(-45)">U251</text>
<text class="m" font-size="19.0" x="-64.16" y="0" textLength="64.16" lengthAdjust="spacingAndGlyphs" transform="translate(988.50 686.50) rotate(-45)">U251-si</text>
<circle cx="925.60" cy="489.00" r="2.7" fill="#000"/>
<circle cx="925.60" cy="522.00" r="2.7" fill="#000"/>
<circle cx="925.60" cy="538.00" r="2.7" fill="#000"/>
<rect x="980.40" y="612.40" width="5.2" height="5.2" fill="#000"/>
<rect x="975.40" y="625.40" width="5.2" height="5.2" fill="#000"/>
<rect x="984.40" y="623.40" width="5.2" height="5.2" fill="#000"/>
<text class="r" font-size="24" text-anchor="middle" x="983.20" y="616.24">**</text>
<text font-size="21" textLength="243.00" lengthAdjust="spacingAndGlyphs" xml:space="preserve" transform="translate(826.00 675.40) rotate(-90)"><tspan class="mi">PDX1</tspan><tspan class="m"> mRNA Expression</tspan></text>
<rect x="1143.10" y="612.70" width="45.20" height="38.70" fill="#7b7e7e" stroke="#000" stroke-width="3.4"/>
<rect x="1205.70" y="493.30" width="44.60" height="158.10" fill="#9b9ba0" stroke="#000" stroke-width="3.4"/>
<path d="M1154.00 608.60H1178.00M1166.00 608.60V614.00M1154.00 614.00H1178.00" stroke="#111" stroke-width="1.4" fill="none"/>
<path d="M1216.00 488.60H1240.00M1228.00 488.60V495.00M1216.00 495.00H1240.00" stroke="#111" stroke-width="1.4" fill="none"/>
<path d="M1117.40 435.75V651.40" stroke="#000" stroke-width="2.5" fill="none"/>
<path d="M1106.00 651.40H1279.40" stroke="#000" stroke-width="3.4" fill="none"/>
<path d="M1106.00 436.80H1117.40" stroke="#000" stroke-width="2.2"/>
<text class="b" font-size="19.7" x="1092.44" y="443.95" textLength="10.96" lengthAdjust="spacingAndGlyphs">5</text>
<path d="M1106.00 479.70H1117.40" stroke="#000" stroke-width="2.2"/>
<text class="b" font-size="19.7" x="1092.44" y="486.85" textLength="10.96" lengthAdjust="spacingAndGlyphs">4</text>
<path d="M1106.00 522.60H1117.40" stroke="#000" stroke-width="2.2"/>
<text class="b" font-size="19.7" x="1092.44" y="529.75" textLength="10.96" lengthAdjust="spacingAndGlyphs">3</text>
<path d="M1106.00 565.60H1117.40" stroke="#000" stroke-width="2.2"/>
<text class="b" font-size="19.7" x="1092.44" y="572.75" textLength="10.96" lengthAdjust="spacingAndGlyphs">2</text>
<path d="M1106.00 608.50H1117.40" stroke="#000" stroke-width="2.2"/>
<text class="b" font-size="19.7" x="1092.44" y="615.65" textLength="10.96" lengthAdjust="spacingAndGlyphs">1</text>
<text class="b" font-size="19.7" x="1092.44" y="658.55" textLength="10.96" lengthAdjust="spacingAndGlyphs">0</text>
<path d="M1165.60 651.40V663.00" stroke="#000" stroke-width="2.2"/>
<path d="M1228.00 651.40V663.00" stroke="#000" stroke-width="2.2"/>
<text class="b" font-size="19.0" x="-44.51" y="0" textLength="44.51" lengthAdjust="spacingAndGlyphs" transform="translate(1171.10 682.90) rotate(-45)">U251</text>
<text class="b" font-size="19.0" x="-66.24" y="0" textLength="66.24" lengthAdjust="spacingAndGlyphs" transform="translate(1233.50 682.90) rotate(-45)">U251-si</text>
<circle cx="1161.00" cy="608.60" r="2.7" fill="#000"/>
<circle cx="1172.00" cy="608.60" r="2.7" fill="#000"/>
<circle cx="1166.00" cy="616.60" r="2.7" fill="#000"/>
<rect x="1225.40" y="483.00" width="5.2" height="5.2" fill="#000"/>
<rect x="1220.00" y="493.40" width="5.2" height="5.2" fill="#000"/>
<rect x="1230.40" y="489.40" width="5.2" height="5.2" fill="#000"/>
<text class="r" font-size="24" text-anchor="middle" x="1227.00" y="484.84">****</text>
<text font-size="22" textLength="309.20" lengthAdjust="spacingAndGlyphs" xml:space="preserve" transform="translate(1076.00 698.00) rotate(-90)"><tspan class="mi">RASGRF1</tspan><tspan class="b"> mRNA Expression</tspan></text>
<rect x="1391.70" y="620.70" width="45.60" height="28.90" fill="#7b7e7e" stroke="#000" stroke-width="3.4"/>
<rect x="1453.70" y="484.70" width="45.60" height="164.90" fill="#9b9ba0" stroke="#000" stroke-width="3.4"/>
<path d="M1402.70 616.60H1426.70M1414.70 616.60V622.00M1402.70 622.00H1426.70" stroke="#111" stroke-width="1.4" fill="none"/>
<path d="M1464.80 467.60H1488.80M1476.80 467.60V498.60M1464.80 498.60H1488.80" stroke="#111" stroke-width="1.4" fill="none"/>
<path d="M1366.00 433.55V649.60" stroke="#000" stroke-width="2.5" fill="none"/>
<path d="M1354.40 649.60H1528.00" stroke="#000" stroke-width="3.4" fill="none"/>
<path d="M1354.40 434.60H1366.00" stroke="#000" stroke-width="2.2"/>
<text class="b" font-size="19.7" x="1340.84" y="441.75" textLength="10.96" lengthAdjust="spacingAndGlyphs">8</text>
<path d="M1354.40 488.40H1366.00" stroke="#000" stroke-width="2.2"/>
<text class="b" font-size="19.7" x="1340.84" y="495.55" textLength="10.96" lengthAdjust="spacingAndGlyphs">6</text>
<path d="M1354.40 542.10H1366.00" stroke="#000" stroke-width="2.2"/>
<text class="b" font-size="19.7" x="1340.84" y="549.25" textLength="10.96" lengthAdjust="spacingAndGlyphs">4</text>
<path d="M1354.40 595.90H1366.00" stroke="#000" stroke-width="2.2"/>
<text class="b" font-size="19.7" x="1340.84" y="603.05" textLength="10.96" lengthAdjust="spacingAndGlyphs">2</text>
<text class="b" font-size="19.7" x="1340.84" y="656.75" textLength="10.96" lengthAdjust="spacingAndGlyphs">0</text>
<path d="M1414.40 649.60V661.00" stroke="#000" stroke-width="2.2"/>
<path d="M1476.60 649.60V661.00" stroke="#000" stroke-width="2.2"/>
<text class="b" font-size="19.0" x="-44.51" y="0" textLength="44.51" lengthAdjust="spacingAndGlyphs" transform="translate(1419.90 681.10) rotate(-45)">U251</text>
<text class="b" font-size="19.0" x="-66.24" y="0" textLength="66.24" lengthAdjust="spacingAndGlyphs" transform="translate(1482.10 681.10) rotate(-45)">U251-si</text>
<circle cx="1409.40" cy="614.60" r="2.7" fill="#000"/>
<circle cx="1409.40" cy="623.00" r="2.7" fill="#000"/>
<circle cx="1420.00" cy="618.00" r="2.7" fill="#000"/>
<rect x="1474.00" y="457.00" width="5.2" height="5.2" fill="#000"/>
<rect x="1474.00" y="476.40" width="5.2" height="5.2" fill="#000"/>
<rect x="1474.00" y="509.00" width="5.2" height="5.2" fill="#000"/>
<text class="r" font-size="24" text-anchor="middle" x="1476.50" y="458.84">***</text>
<text font-size="22" textLength="309.60" lengthAdjust="spacingAndGlyphs" xml:space="preserve" transform="translate(1325.00 697.40) rotate(-90)"><tspan class="mi">RASGRF</tspan><tspan class="b">2 mRNA Expression</tspan></text>
<polyline fill="none" stroke="#111" stroke-width="1.5" points="115.80,1149.00 249.70,1100.00 383.50,1057.75 517.30,996.25"/>
<polyline fill="none" stroke="#111" stroke-width="1.5" points="115.80,1149.00 249.70,1133.00 383.50,1098.50 517.30,1037.25"/>
<path d="M511.30 987.50H523.30M517.30 987.50V1004.25M511.30 1004.25H523.30" stroke="#111" stroke-width="1.4" fill="none"/>
<path d="M115.80 880.40V1193.00" stroke="#000" stroke-width="2.8" fill="none"/>
<path d="M102.50 1180.00H563.40" stroke="#000" stroke-width="3.3" fill="none"/>
<path d="M102.50 881.80H115.80" stroke="#000" stroke-width="2.5"/>
<text class="b" font-size="22.2" x="68.95" y="890.15" textLength="30.55" lengthAdjust="spacingAndGlyphs">1.5</text>
<path d="M102.50 981.20H115.80" stroke="#000" stroke-width="2.5"/>
<text class="b" font-size="22.2" x="68.95" y="989.55" textLength="30.55" lengthAdjust="spacingAndGlyphs">1.0</text>
<path d="M102.50 1080.60H115.80" stroke="#000" stroke-width="2.5"/>
<text class="b" font-size="22.2" x="68.95" y="1088.95" textLength="30.55" lengthAdjust="spacingAndGlyphs">0.5</text>
<text class="b" font-size="22.2" x="68.95" y="1188.35" textLength="30.55" lengthAdjust="spacingAndGlyphs">0.0</text>
<text class="b" font-size="22.2" x="109.69" y="1218.50" textLength="12.22" lengthAdjust="spacingAndGlyphs">0</text>
<path d="M227.30 1180.00V1193.00" stroke="#000" stroke-width="2.5"/>
<text class="b" font-size="22.2" x="215.08" y="1218.50" textLength="24.45" lengthAdjust="spacingAndGlyphs">20</text>
<path d="M338.90 1180.00V1193.00" stroke="#000" stroke-width="2.5"/>
<text class="b" font-size="22.2" x="326.68" y="1218.50" textLength="24.45" lengthAdjust="spacingAndGlyphs">40</text>
<path d="M450.40 1180.00V1193.00" stroke="#000" stroke-width="2.5"/>
<text class="b" font-size="22.2" x="438.18" y="1218.50" textLength="24.45" lengthAdjust="spacingAndGlyphs">60</text>
<path d="M562.00 1180.00V1193.00" stroke="#000" stroke-width="2.5"/>
<text class="b" font-size="22.2" x="549.78" y="1218.50" textLength="24.45" lengthAdjust="spacingAndGlyphs">80</text>
<circle cx="249.70" cy="1100.00" r="5.7" fill="#000"/>
<circle cx="383.50" cy="1057.75" r="5.7" fill="#000"/>
<circle cx="517.30" cy="996.25" r="5.7" fill="#000"/>
<rect x="109.80" y="1143.00" width="12" height="12" fill="#000"/>
<rect x="243.70" y="1127.00" width="12" height="12" fill="#000"/>
<rect x="377.50" y="1092.50" width="12" height="12" fill="#000"/>
<rect x="511.30" y="1031.25" width="12" height="12" fill="#000"/>
<text class="r" font-size="24" text-anchor="middle" x="250.00" y="1092.27">*</text>
<text class="r" font-size="24" text-anchor="middle" x="383.50" y="1049.02">**</text>
<text class="r" font-size="24" text-anchor="middle" x="517.00" y="985.27">**</text>
<text class="b" font-size="29" x="312.06" y="841.75" textLength="51.87" lengthAdjust="spacingAndGlyphs">U87</text>
<text class="b" font-size="26" x="303.70" y="1256.40" textLength="69.60" lengthAdjust="spacingAndGlyphs">Hours</text>
<text class="b" font-size="25.6" textLength="241.75" lengthAdjust="spacingAndGlyphs" transform="translate(52.20 1151.75) rotate(-90)">O.D values (450 nm)</text>
<path d="M631.00 902.50H662.75M631.00 943.25H662.75" stroke="#111" stroke-width="1.4"/>
<circle cx="646.88" cy="902.50" r="5.9" fill="#000"/>
<rect x="640.88" y="937.25" width="12" height="12" fill="#000"/>
<text class="r" font-size="25.5" x="681.95" y="910.40" textLength="43.04" lengthAdjust="spacingAndGlyphs">U87</text>
<text class="r" font-size="25.5" x="681.95" y="951.65" textLength="67.79" lengthAdjust="spacingAndGlyphs">U87-si</text>
<polyline fill="none" stroke="#111" stroke-width="1.5" points="884.50,1137.00 1016.20,1058.75 1147.70,989.75 1279.20,910.50"/>
<polyline fill="none" stroke="#111" stroke-width="1.5" points="884.50,1137.00 1016.20,1101.25 1147.70,1063.25 1279.20,978.75"/>
<path d="M1010.20 1052.30H1022.20M1016.20 1052.30V1065.20M1010.20 1065.20H1022.20" stroke="#111" stroke-width="1.4" fill="none"/>
<path d="M1010.00 1093.80H1022.40M1016.20 1093.80V1108.80M1010.00 1108.80H1022.40" stroke="#111" stroke-width="1.4" fill="none"/>
<path d="M1141.50 1056.00H1153.90M1147.70 1056.00V1070.50M1141.50 1070.50H1153.90" stroke="#111" stroke-width="1.4" fill="none"/>
<path d="M884.70 887.85V1194.50" stroke="#000" stroke-width="2.8" fill="none"/>
<path d="M871.75 1181.80H1324.40" stroke="#000" stroke-width="3.3" fill="none"/>
<path d="M871.75 889.25H884.70" stroke="#000" stroke-width="2.5"/>
<text class="b" font-size="22.2" x="838.20" y="897.60" textLength="30.55" lengthAdjust="spacingAndGlyphs">1.0</text>
<path d="M871.75 947.80H884.70" stroke="#000" stroke-width="2.5"/>
<text class="b" font-size="22.2" x="838.20" y="956.15" textLength="30.55" lengthAdjust="spacingAndGlyphs">0.8</text>
<path d="M871.75 1006.30H884.70" stroke="#000" stroke-width="2.5"/>
<text class="b" font-size="22.2" x="838.20" y="1014.65" textLength="30.55" lengthAdjust="spacingAndGlyphs">0.6</text>
<path d="M871.75 1064.80H884.70" stroke="#000" stroke-width="2.5"/>
<text class="b" font-size="22.2" x="838.20" y="1073.15" textLength="30.55" lengthAdjust="spacingAndGlyphs">0.4</text>
<path d="M871.75 1123.30H884.70" stroke="#000" stroke-width="2.5"/>
<text class="b" font-size="22.2" x="838.20" y="1131.65" textLength="30.55" lengthAdjust="spacingAndGlyphs">0.2</text>
<text class="b" font-size="22.2" x="838.20" y="1190.15" textLength="30.55" lengthAdjust="spacingAndGlyphs">0.0</text>
<text class="b" font-size="22.2" x="878.59" y="1220.00" textLength="12.22" lengthAdjust="spacingAndGlyphs">0</text>
<path d="M994.30 1181.80V1194.50" stroke="#000" stroke-width="2.5"/>
<text class="b" font-size="22.2" x="982.08" y="1220.00" textLength="24.45" lengthAdjust="spacingAndGlyphs">20</text>
<path d="M1103.90 1181.80V1194.50" stroke="#000" stroke-width="2.5"/>
<text class="b" font-size="22.2" x="1091.68" y="1220.00" textLength="24.45" lengthAdjust="spacingAndGlyphs">40</text>
<path d="M1213.40 1181.80V1194.50" stroke="#000" stroke-width="2.5"/>
<text class="b" font-size="22.2" x="1201.18" y="1220.00" textLength="24.45" lengthAdjust="spacingAndGlyphs">60</text>
<path d="M1323.00 1181.80V1194.50" stroke="#000" stroke-width="2.5"/>
<text class="b" font-size="22.2" x="1310.78" y="1220.00" textLength="24.45" lengthAdjust="spacingAndGlyphs">80</text>
<circle cx="1016.20" cy="1058.75" r="5.7" fill="#000"/>
<circle cx="1147.70" cy="989.75" r="5.7" fill="#000"/>
<circle cx="1279.20" cy="910.50" r="5.7" fill="#000"/>
<rect x="878.50" y="1131.00" width="12" height="12" fill="#000"/>
<rect x="1010.20" y="1095.25" width="12" height="12" fill="#000"/>
<rect x="1141.70" y="1057.25" width="12" height="12" fill="#000"/>
<rect x="1273.20" y="972.75" width="12" height="12" fill="#000"/>
<text class="r" font-size="24" text-anchor="middle" x="1014.25" y="1049.02">*</text>
<text class="r" font-size="24" text-anchor="middle" x="1147.00" y="984.02">**</text>
<text class="r" font-size="24" text-anchor="middle" x="1276.60" y="904.02">**</text>
<text class="b" font-size="29" x="1068.80" y="849.25" textLength="67.60" lengthAdjust="spacingAndGlyphs">U251</text>
<text class="b" font-size="26" x="1068.95" y="1256.90" textLength="68.60" lengthAdjust="spacingAndGlyphs">Hours</text>
<text class="b" font-size="25.6" textLength="234.75" lengthAdjust="spacingAndGlyphs" transform="translate(822.20 1151.75) rotate(-90)">O.D values (450 nm)</text>
<path d="M1390.25 909.25H1421.75M1390.25 949.25H1421.75" stroke="#111" stroke-width="1.4"/>
<circle cx="1406.00" cy="909.25" r="5.9" fill="#000"/>
<rect x="1400.00" y="943.25" width="12" height="12" fill="#000"/>
<text class="r" font-size="25.5" x="1439.70" y="917.40" textLength="56.08" lengthAdjust="spacingAndGlyphs">U251</text>
<text class="r" font-size="25.5" x="1439.70" y="957.15" textLength="80.84" lengthAdjust="spacingAndGlyphs">U251-si</text>
<text class="b" font-size="24.8" x="9.60" y="31.00" textLength="19.16" lengthAdjust="spacingAndGlyphs">A</text>
<text class="b" font-size="24.8" x="10.60" y="389.00" textLength="19.16" lengthAdjust="spacingAndGlyphs">B</text>
<text class="b" font-size="24.8" x="784.20" y="389.40" textLength="19.16" lengthAdjust="spacingAndGlyphs">C</text>
<text class="b" font-size="24.8" x="10.20" y="795.00" textLength="19.16" lengthAdjust="spacingAndGlyphs">D</text>
<text class="b" font-size="24.8" x="786.70" y="795.00" textLength="17.70" lengthAdjust="spacingAndGlyphs">E</text>
</svg>
</body></html>
